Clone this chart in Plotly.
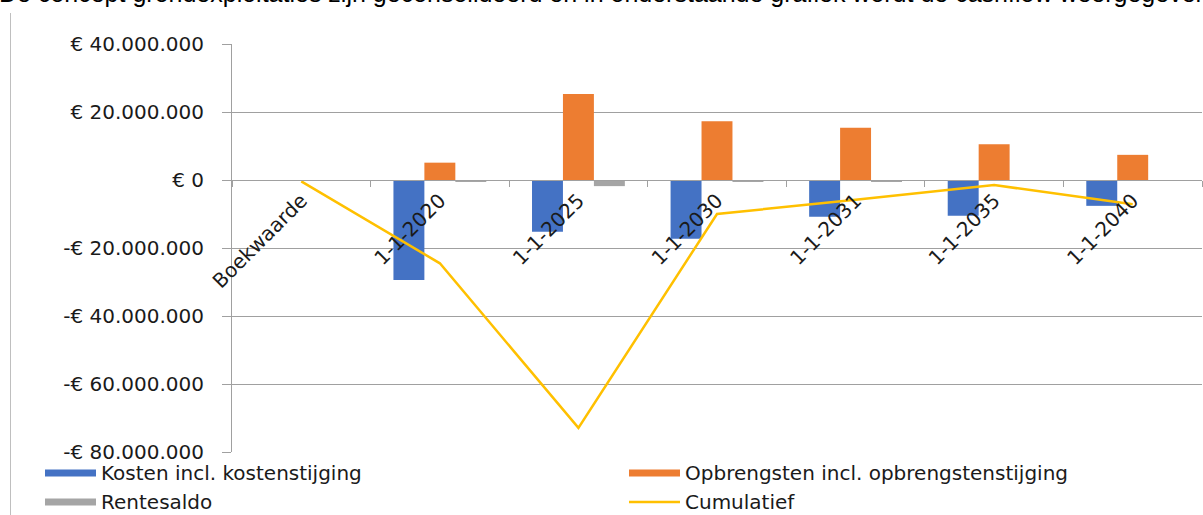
import plotly.graph_objects as go

categories = ["Boekwaarde", "1-1-2020", "1-1-2025", "1-1-2030", "1-1-2031", "1-1-2035", "1-1-2040"]
kosten = [0, -29.4e6, -15.2e6, -17.3e6, -10.8e6, -10.5e6, -7.6e6]
opbrengsten = [0, 5.1e6, 25.3e6, 17.3e6, 15.4e6, 10.5e6, 7.4e6]
rentesaldo = [0, -0.3e6, -1.8e6, -0.3e6, -0.3e6, -0.1e6, 0]
cumulatief = [-0.4e6, -24.5e6, -72.9e6, -10.0e6, -5.8e6, -1.5e6, -7.1e6]

y_tickvals = [40e6, 20e6, 0, -20e6, -40e6, -60e6, -80e6]
y_ticktext = ["€ 40.000.000", "€ 20.000.000", "€ 0", "-€ 20.000.000",
              "-€ 40.000.000", "-€ 60.000.000", "-€ 80.000.000"]

series_names = ["Kosten incl. kostenstijging", "Opbrengsten incl. opbrengstenstijging",
                "Rentesaldo", "Cumulatief"]
colors = ["#4472C4", "#ED7D31", "#A5A5A5", "#FFC000"]

header_text = ("De concept grondexploitaties zijn geconsolideerd en in onderstaande "
               "grafiek wordt de cashflow weergegeven")

W, H = 1203, 515
ML, MR, MT, MB = 232, 1, 44, 63
PW, PH = W - ML - MR, H - MT - MB


def px(x):
    return (x - ML) / PW


def py(y):
    return (H - MB - y) / PH


FONT = "DejaVu Sans"
TXT = "#1a1a1a"
GRID = "#A0A0A0"
FS = 20

fig = go.Figure()
for vals, name, col in zip([kosten, opbrengsten, rentesaldo], series_names[:3], colors[:3]):
    fig.add_trace(go.Bar(x=categories, y=vals, name=name, marker_color=col,
                         marker_line_width=0, showlegend=False))
fig.add_trace(go.Scatter(x=categories, y=cumulatief, name=series_names[3], mode="lines",
                         line=dict(color=colors[3], width=2.5), showlegend=False))

# manual legend (wide thin swatches as in the reference)
shapes = []
annotations = []
legend_pos = [(45, 473), (629, 473), (45, 502), (629, 502)]
for i, (name, col) in enumerate(zip(series_names, colors)):
    x0, yc = legend_pos[i]
    if i < 3:
        shapes.append(dict(type="rect", xref="paper", yref="paper",
                           x0=px(x0), x1=px(x0 + 51), y0=py(yc - 3.5), y1=py(yc + 3.5),
                           fillcolor=col, line=dict(width=0)))
    else:
        shapes.append(dict(type="line", xref="paper", yref="paper",
                           x0=px(x0), x1=px(x0 + 51), y0=py(yc), y1=py(yc),
                           line=dict(color=col, width=2.5)))
    annotations.append(dict(text=name, xref="paper", yref="paper", x=px(x0 + 54), y=py(yc),
                            xanchor="left", yanchor="middle", showarrow=False,
                            font=dict(family=FONT, size=FS, color=TXT)))

# left border of the embedded chart frame
shapes.append(dict(type="line", xref="paper", yref="paper", x0=px(10.5), x1=px(10.5),
                   y0=py(13), y1=py(516), line=dict(color="#BFBFBF", width=1)))

# header sentence cut off at the top of the screenshot
annotations.append(dict(text=header_text, xref="paper", yref="paper", x=px(-3), y=py(9.5),
                        xanchor="left", yanchor="bottom", showarrow=False,
                        font=dict(family="Liberation Sans", size=25, color="#000000")))

fig.update_layout(
    width=W, height=H,
    margin=dict(l=ML, r=MR, t=MT, b=MB, autoexpand=False),
    paper_bgcolor="white", plot_bgcolor="white",
    barmode="group", bargap=0.33, bargroupgap=0,
    showlegend=False,
    shapes=shapes, annotations=annotations,
    font=dict(family=FONT, size=FS, color=TXT),
)
fig.update_xaxes(type="category", anchor="free", position=py(180),
                 showline=True, linecolor=GRID, linewidth=1,
                 ticks="outside", tickson="boundaries", ticklen=6, tickcolor=GRID,
                 tickangle=-45, showgrid=False, zeroline=False,
                 tickfont=dict(family=FONT, size=FS, color=TXT))
fig.update_yaxes(range=[-80e6, 40e6], tickvals=y_tickvals, ticktext=y_ticktext,
                 showline=True, linecolor=GRID, linewidth=1,
                 ticks="outside", ticklen=9, tickcolor=GRID,
                 showgrid=True, gridcolor=GRID, gridwidth=1, zeroline=False,
                 ticklabelstandoff=14,
                 tickfont=dict(family=FONT, size=FS, color=TXT))

fig.write_html("out.html", config={"displayModeBar": False},
               post_script="document.body.style.margin='0';"
               "document.body.style.overflow='hidden';")
